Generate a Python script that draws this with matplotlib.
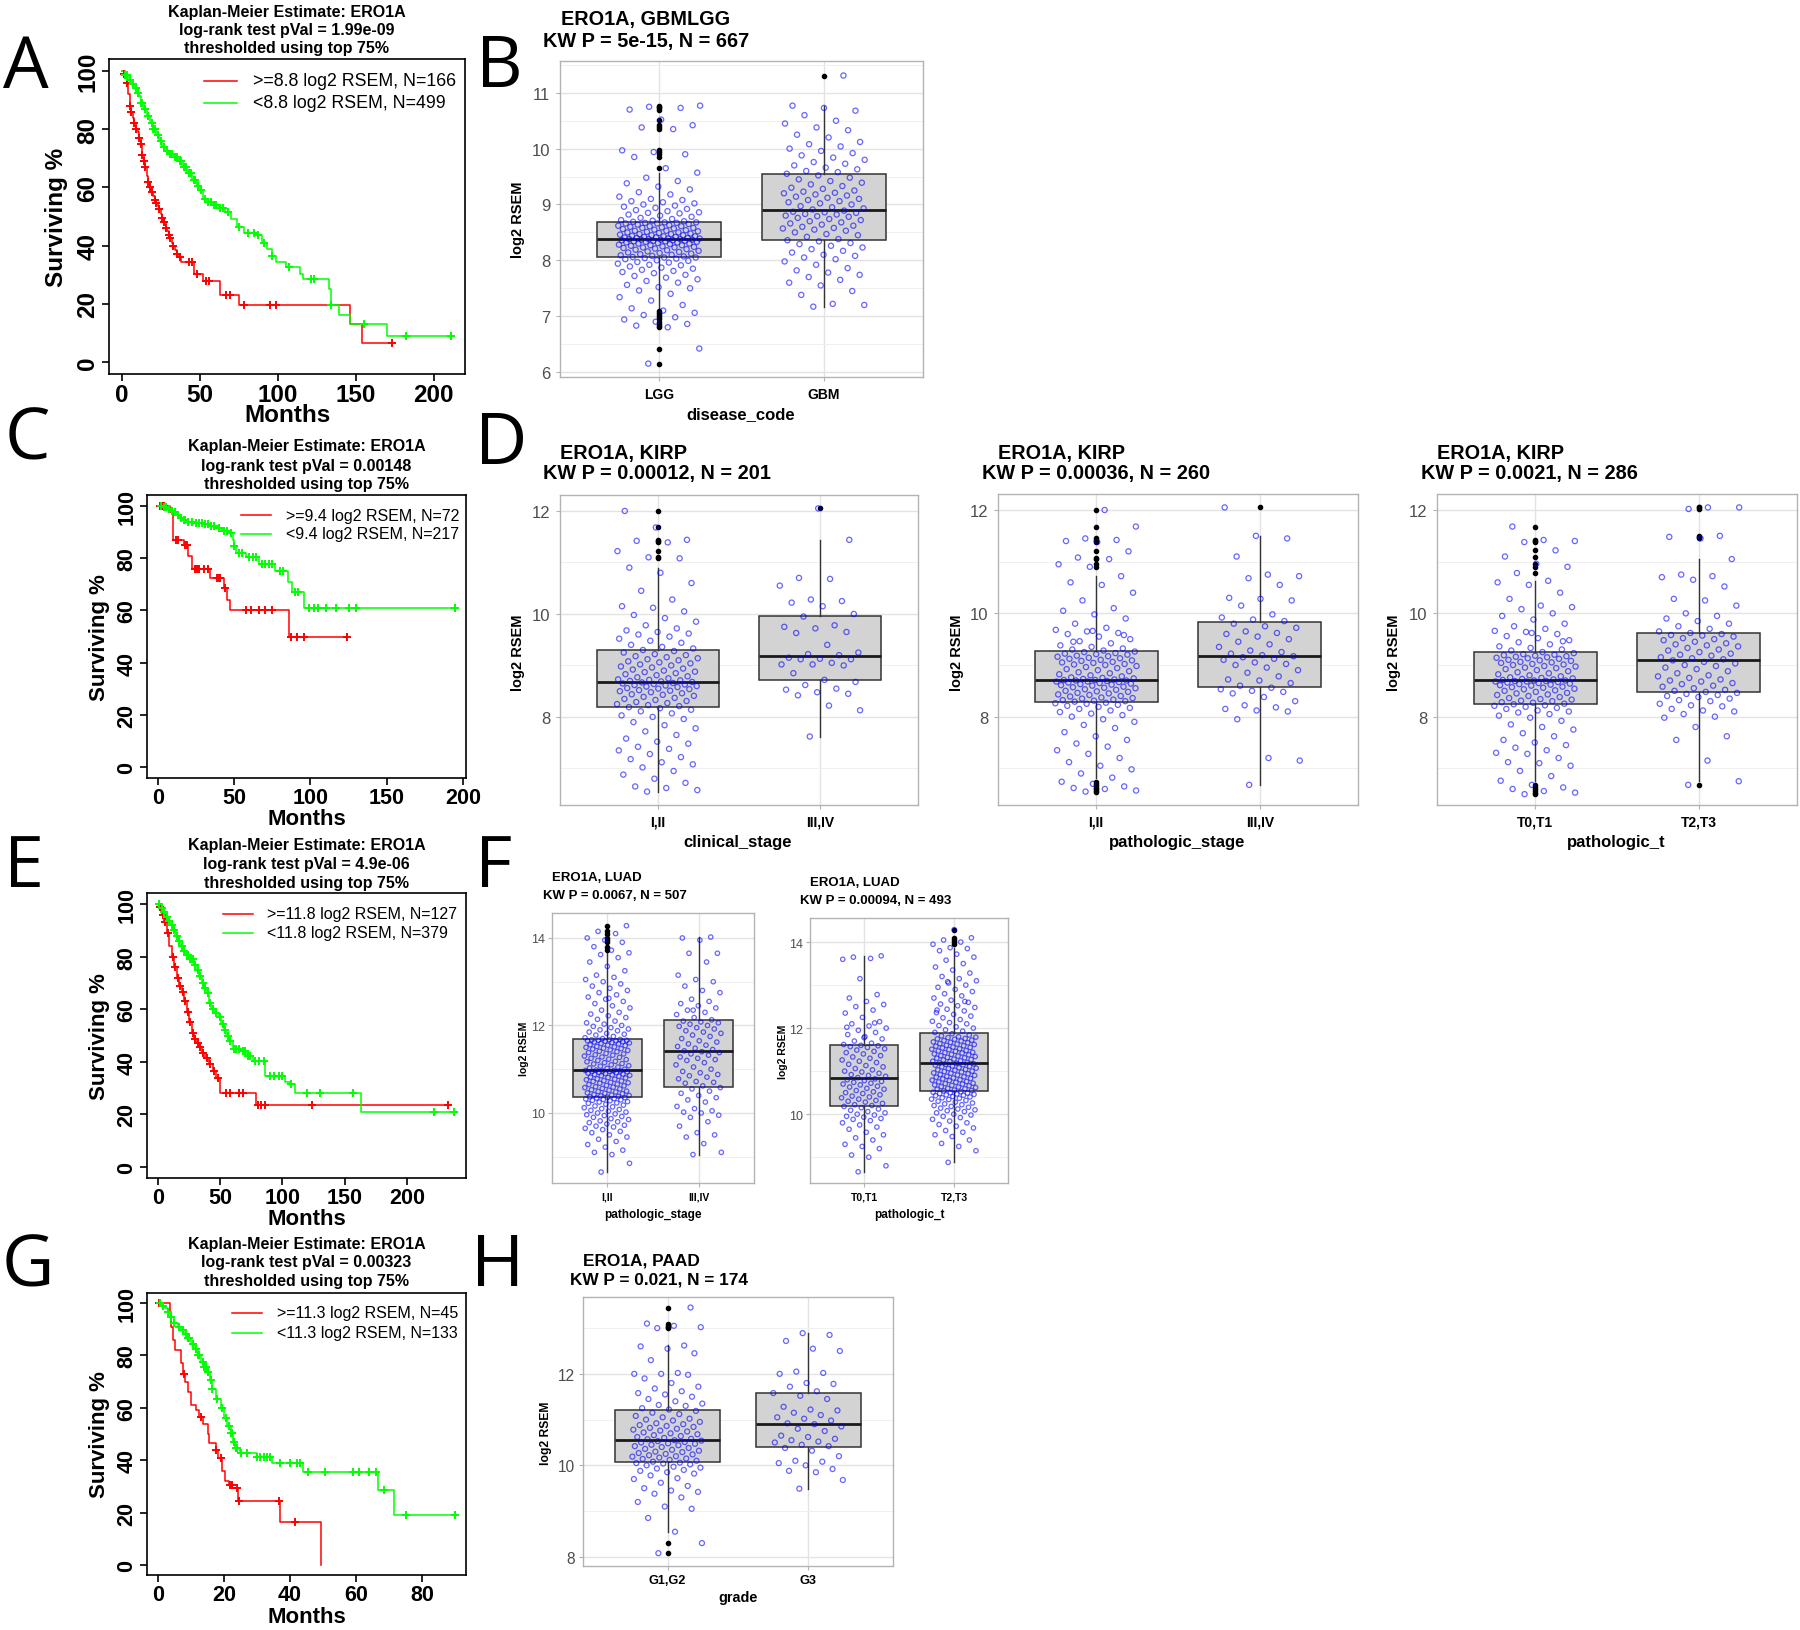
import matplotlib
matplotlib.use("Agg")
import matplotlib.pyplot as plt
from matplotlib.lines import Line2D
from matplotlib.ticker import FixedLocator
import numpy as np

plt.rcParams['font.family'] = ['Liberation Sans', 'DejaVu Sans']

W, H = 1800, 1631
fig = plt.figure(figsize=(W / 100, H / 100), dpi=100)

# ---------------- Kaplan-Meier curves (months, surviving %) ----------------
# A: GBMLGG
a_hi_t = [0, 1, 2, 3, 4, 5, 6, 7, 8, 9, 10, 11, 12, 13, 14, 15, 16, 17, 18, 19, 20, 21, 22, 23, 24,
          25, 26, 27, 28, 29, 30, 31, 32, 33, 34, 35, 36, 38, 46, 52, 63, 75, 146, 154]
a_hi_s = [100, 99, 97.5, 96, 92, 88, 86, 84, 82, 80, 79, 77, 75, 71, 69, 67, 64, 62, 60, 58.5, 57, 55.5,
          54.5, 53.5, 52.5, 51, 49.5, 48, 46, 45, 43.5, 42.5, 41, 40, 38.5, 37, 36, 34.3, 30.3, 28, 23.2,
          19.7, 13.1, 6.5]
a_hi_end = 173
a_hi_cens = [1, 3, 5, 6, 8, 9, 11, 12, 13, 14, 15, 17, 18, 19, 21, 22, 24, 26, 27, 28, 30, 31, 33, 35,
             37, 43, 45, 48, 54, 56, 67, 69, 78, 95, 99, 173]
a_lo_t = [0, 2, 4, 6, 8, 10, 11, 12, 14, 16, 18, 20, 22, 24, 26, 28, 30, 33, 36, 39, 42, 45, 48, 50, 52,
          54, 58, 62, 66, 70, 74, 78, 87, 90, 93, 96, 99, 105, 114, 116, 133, 134, 139, 146, 170]
a_lo_s = [100, 98.5, 97, 95.5, 94, 92.5, 91.5, 89, 87, 84.5, 82, 80, 78, 76, 74, 72.6, 71.5, 70.5, 69, 67,
          65, 62.5, 60.5, 59, 56, 55, 54, 53, 51.5, 49, 46.5, 44.5, 43.5, 41, 39, 36.6, 34.3, 32.6, 30.3,
          28.6, 25, 19.7, 16.2, 13.1, 8.8]
a_lo_end = 211
a_lo_cens = [2, 3, 5, 7, 9, 10, 12, 13, 15, 17, 19, 20, 21, 23, 25, 27, 29, 31, 32, 34, 35, 37, 38, 40,
             41, 43, 44, 46, 47, 49, 51, 53, 55, 57, 59, 60, 63, 65, 68, 75, 81, 85, 87, 91, 96, 107,
             121, 123, 134, 155, 182, 211]

# C: KIRP
c_hi_t = [0, 8, 10, 17, 20, 22, 34, 43, 45, 47, 86]
c_hi_s = [100, 97.5, 87, 85, 81, 76, 72.5, 68.5, 64, 60, 50]
c_hi_end = 124
c_hi_cens = [1, 2, 3, 4, 12, 13, 18, 19, 24, 25, 26, 27, 30, 33, 39, 40, 41, 44, 58, 61, 66, 70, 75, 87,
             91, 96, 124]
c_lo_t = [0, 3, 6, 8, 10, 12, 14, 16, 19, 24, 30, 34, 38, 42, 47, 49, 50, 51, 58, 66, 77, 85, 88, 96]
c_lo_s = [100, 99.5, 99, 98, 97.5, 96.5, 95.5, 94.5, 94, 93.5, 93, 92.3, 91.5, 90.5, 89.5, 87, 84.5, 82,
          80.3, 77.7, 75, 70.7, 67, 61]
c_lo_end = 195
c_lo_cens = [2, 4, 5, 7, 9, 11, 13, 15, 17, 18, 20, 22, 25, 27, 29, 31, 33, 35, 37, 40, 43, 45, 48, 50,
             53, 55, 60, 62, 64, 68, 70, 73, 75, 80, 82, 90, 92, 99, 102, 105, 110, 117, 125, 130, 195]

# E: LUAD
e_hi_t = [0, 1, 3, 5, 7, 9, 11, 13, 15, 17, 19, 21, 23, 25, 27, 29, 31, 33, 35, 38, 41, 44, 47, 50, 79]
e_hi_s = [100, 99, 96, 93, 89, 84, 80, 76, 72, 69, 66.5, 63, 59, 55, 51, 48.5, 47, 45.5, 43.5, 41.5, 39,
          36.5, 34, 28.2, 23.5]
e_hi_end = 233
e_hi_cens = [2, 4, 6, 8, 12, 14, 16, 18, 20, 22, 24, 26, 28, 30, 32, 34, 36, 39, 42, 45, 48, 55, 58, 65,
             68, 80, 83, 86, 124, 233]
e_lo_t = [0, 2, 4, 6, 8, 10, 12, 14, 16, 18, 20, 22, 25, 29, 31, 33, 35, 37, 39, 41, 43, 46, 49, 51, 53,
          55, 57, 60, 66, 71, 76, 86, 102, 106, 110, 163]
e_lo_s = [100, 98.5, 97, 95, 93.5, 92, 90, 88, 86, 84, 82, 80.5, 79, 77, 75, 72.5, 70, 68, 66, 62.5, 60,
          58.5, 57, 54.5, 52, 50, 48, 45, 44, 42.2, 40.3, 34.6, 32.4, 31.4, 28.2, 21]
e_lo_end = 238
e_lo_cens = [1, 3, 5, 7, 9, 11, 13, 15, 17, 19, 21, 23, 24, 26, 27, 28, 30, 32, 34, 36, 38, 40, 42, 44,
             47, 50, 52, 54, 56, 58, 61, 63, 65, 68, 70, 72, 74, 78, 81, 85, 90, 93, 97, 100, 107, 120,
             130, 157, 222, 238]

# G: PAAD
g_hi_t = [0, 3.5, 4, 4.5, 5.2, 7, 7.6, 8.2, 9, 10, 11.5, 12.5, 13.5, 15, 15.6, 17.5, 18.2, 19.5, 20.2,
          21.5, 22.5, 24.2, 37, 49.5]
g_hi_s = [100, 96, 91, 86, 82, 77, 73, 70, 66, 61, 59, 56.5, 54, 50, 46.5, 44, 41, 36, 32, 30.5, 29.5,
          24.5, 16.3, 0]
g_hi_end = 49.5
g_hi_cens = [0.3, 8, 13, 17.5, 19, 21.8, 22.4, 23.8, 24.5, 36.8, 41.5]
g_lo_t = [0, 1, 2, 3, 4, 5, 6, 7, 8, 9, 10, 11, 12, 13, 14, 15, 15.7, 16.5, 17.5, 19, 20, 21, 22, 22.8,
          23.3, 24.8, 29.9, 34.4, 44, 66.5, 71.6]
g_lo_s = [100, 99, 98, 96.5, 94.5, 92.5, 91, 89.5, 88, 86.5, 84.5, 82.5, 80, 77.5, 75.5, 73.5, 70.5, 67,
          63.5, 60, 56, 53, 50.5, 47, 44.5, 42.8, 41.3, 38.8, 35.6, 28.6, 19]
g_lo_end = 90
g_lo_cens = [0.5, 1.5, 3, 4, 5, 6.5, 7.5, 8.5, 9, 9.5, 10.5, 11.5, 12, 12.5, 13.5, 14, 14.5, 15, 16,
             16.5, 18, 19.5, 20.5, 21.5, 22, 22.5, 23, 23.5, 24, 25, 27, 30, 31, 32, 33, 34, 37, 40, 42,
             43, 45.5, 50.5, 59, 61, 64, 66, 68.5, 75, 90]

km_pvals = ['1.99e-09', '0.00148', '4.9e-06', '0.00323']
km_legends = [('>=8.8 log2 RSEM, N=166', '<8.8 log2 RSEM, N=499'),
              ('>=9.4 log2 RSEM, N=72', '<9.4 log2 RSEM, N=217'),
              ('>=11.8 log2 RSEM, N=127', '<11.8 log2 RSEM, N=379'),
              ('>=11.3 log2 RSEM, N=45', '<11.3 log2 RSEM, N=133')]

# ---------------- expression values (log2 RSEM) ----------------
b_lgg = [6.15, 6.42, 6.80, 6.83, 6.86, 6.90, 6.94, 6.98, 7.02, 7.06, 7.10,
         7.14, 7.20, 7.28, 7.34, 7.40, 7.46, 7.50, 7.52, 7.56, 7.60, 7.63,
         7.66, 7.69, 7.72, 7.74, 7.77, 7.79, 7.81, 7.83, 7.85, 7.87,
         7.89, 7.91, 7.92, 7.94, 7.96, 7.97, 7.99, 8.00, 8.02, 8.03, 8.04, 8.05, 8.05,
         8.06, 8.07, 8.08, 8.09, 8.10, 8.11, 8.12, 8.13, 8.14, 8.15,
         8.16, 8.17, 8.18, 8.19, 8.20, 8.21, 8.22, 8.23, 8.23, 8.24,
         8.25, 8.26, 8.27, 8.27, 8.28, 8.29, 8.30, 8.30, 8.31, 8.32,
         8.32, 8.33, 8.33, 8.34, 8.34, 8.35, 8.35, 8.36, 8.36, 8.37,
         8.37, 8.37, 8.38, 8.38, 8.38,
         8.39, 8.39, 8.40, 8.40, 8.41, 8.41, 8.42, 8.42, 8.43, 8.43,
         8.44, 8.45, 8.45, 8.46, 8.47, 8.47, 8.48, 8.49, 8.50, 8.50,
         8.51, 8.52, 8.53, 8.53, 8.54, 8.55, 8.56, 8.57, 8.58, 8.58,
         8.59, 8.60, 8.61, 8.61, 8.62, 8.63, 8.64, 8.65, 8.66, 8.66,
         8.67, 8.67, 8.68, 8.68, 8.69,
         8.70, 8.71, 8.72, 8.74, 8.76, 8.78, 8.80, 8.82, 8.84, 8.85, 8.86, 8.88,
         8.90, 8.92, 8.94, 8.96, 8.98, 9.00, 9.02, 9.04, 9.06, 9.08,
         9.10, 9.14, 9.18, 9.22, 9.27, 9.32, 9.38, 9.42, 9.48, 9.57,
         9.65, 9.85, 9.90, 9.94, 9.97, 10.35, 10.38, 10.42, 10.52, 10.70, 10.73, 10.75, 10.77]
b_gbm = [7.17, 7.20, 7.22, 7.38, 7.45, 7.55, 7.60, 7.65, 7.70, 7.74, 7.78, 7.82, 7.86, 7.92, 7.98,
         8.02, 8.05, 8.08, 8.10, 8.14, 8.17, 8.20, 8.23, 8.26, 8.29, 8.31, 8.34,
         8.36, 8.38, 8.42, 8.45, 8.47, 8.50, 8.53, 8.55, 8.57, 8.58, 8.60, 8.62, 8.64, 8.66, 8.68,
         8.70, 8.72, 8.74, 8.76, 8.78, 8.79, 8.80, 8.82, 8.83, 8.85, 8.86, 8.87, 8.89,
         8.91, 8.93, 8.95, 8.97, 9.00, 9.02, 9.04, 9.06, 9.08, 9.10, 9.12, 9.14, 9.16, 9.18, 9.20,
         9.21, 9.23, 9.25, 9.28, 9.30, 9.33, 9.36, 9.39, 9.42, 9.45, 9.48, 9.52,
         9.55, 9.58, 9.60, 9.63, 9.66, 9.70, 9.73, 9.76, 9.80, 9.84, 9.88, 9.92, 9.96, 10.00,
         10.04, 10.08, 10.12, 10.20, 10.25, 10.33, 10.38, 10.45, 10.50, 10.60, 10.68, 10.73, 10.77, 11.31]

d1_early = [6.55, 6.58, 6.62, 6.65, 6.72, 6.80, 6.88, 6.95, 7.02, 7.08, 7.12, 7.18, 7.22, 7.28, 7.35,
            7.38, 7.42, 7.48, 7.52, 7.58, 7.65, 7.72, 7.78, 7.84, 7.90, 7.96, 8.00, 8.03, 8.07, 8.11,
            8.14, 8.17,
            8.19, 8.21, 8.23, 8.25, 8.27, 8.29, 8.31, 8.33, 8.35, 8.37, 8.39, 8.41, 8.43, 8.44, 8.46,
            8.48, 8.50, 8.51, 8.52, 8.54, 8.55, 8.56, 8.58, 8.59, 8.60, 8.61, 8.62, 8.63, 8.64, 8.65,
            8.66, 8.67, 8.68,
            8.69, 8.70, 8.71, 8.72, 8.73, 8.75, 8.77, 8.79, 8.81, 8.83, 8.85, 8.87, 8.88, 8.90, 8.92,
            8.94, 8.96, 8.98, 9.00, 9.02, 9.04, 9.06, 9.08, 9.10, 9.12, 9.14, 9.16, 9.18, 9.20, 9.22,
            9.25, 9.28,
            9.30, 9.33, 9.36, 9.40, 9.44, 9.48, 9.52, 9.56, 9.60, 9.62, 9.65, 9.68, 9.72, 9.78, 9.85,
            9.92, 9.98, 10.05, 10.12, 10.15, 10.28, 10.45, 10.60, 10.80, 10.90, 11.08, 11.10, 11.22,
            11.39, 11.42, 11.44, 11.68, 12.00]
d1_late = [7.62, 8.13, 8.22, 8.42, 8.45, 8.48, 8.53, 8.55, 8.62, 8.68, 8.72, 8.85, 9.00, 9.02, 9.02,
           9.05, 9.12, 9.12, 9.13, 9.15, 9.20, 9.22, 9.25, 9.40, 9.63, 9.65, 9.72, 9.75, 9.78, 9.95,
           10.00, 10.15, 10.22, 10.25, 10.28, 10.55, 10.68, 10.70, 11.44, 12.05]

d2_early = [6.55, 6.57, 6.60, 6.62, 6.65, 6.70, 6.74, 6.82, 6.90, 6.98, 7.05, 7.12, 7.20, 7.28, 7.35,
            7.42, 7.48, 7.55, 7.62, 7.70, 7.78, 7.84, 7.90, 7.95, 8.00, 8.03, 8.06, 8.09, 8.12, 8.15,
            8.17, 8.19, 8.21, 8.23, 8.25, 8.26, 8.27,
            8.29, 8.30, 8.31, 8.32, 8.33, 8.35, 8.36, 8.37, 8.39, 8.40, 8.42, 8.43, 8.45, 8.46, 8.48,
            8.49, 8.50, 8.52, 8.53, 8.55, 8.56, 8.57, 8.58, 8.60, 8.61, 8.62, 8.63, 8.64, 8.65, 8.66,
            8.67, 8.68, 8.68, 8.69, 8.70, 8.70, 8.71, 8.71,
            8.72, 8.73, 8.74, 8.75, 8.76, 8.78, 8.80, 8.82, 8.84, 8.86, 8.88, 8.90, 8.92, 8.94, 8.96,
            8.98, 9.00, 9.01, 9.02, 9.04, 9.05, 9.06, 9.08, 9.09, 9.10, 9.12, 9.13, 9.14, 9.16, 9.17,
            9.18, 9.20, 9.21, 9.22, 9.23, 9.25, 9.26,
            9.28, 9.30, 9.32, 9.35, 9.38, 9.42, 9.46, 9.50, 9.55, 9.60, 9.62, 9.65, 9.68, 9.72, 9.80,
            9.90, 9.98, 10.05, 10.10, 10.25, 10.40, 10.55, 10.60, 10.72, 10.90, 10.95, 11.05, 11.08,
            11.20, 11.38, 11.40, 11.42, 11.45, 11.68, 12.00, 9.45, 9.58, 9.66]
d2_late = [6.68, 7.15, 7.20, 7.95, 8.10, 8.12, 8.15, 8.18, 8.22, 8.30, 8.38, 8.45, 8.48, 8.50, 8.53,
           8.56, 8.60, 8.65, 8.70, 8.72, 8.78, 8.85, 8.90, 8.95, 9.00, 9.02, 9.05, 9.10, 9.12, 9.15, 9.17,
           9.19, 9.22, 9.25, 9.28, 9.35, 9.40, 9.45, 9.50, 9.55, 9.60, 9.62, 9.65, 9.72, 9.75, 9.80,
           9.85, 9.88, 9.92, 9.98, 10.15, 10.25, 10.28, 10.30, 10.55, 10.68, 10.72, 10.75, 11.10, 11.45,
           11.50, 12.05]

d3_t01 = [6.50, 6.53, 6.56, 6.60, 6.63, 6.68, 6.76, 6.85, 6.95, 7.05, 7.10, 7.12, 7.20, 7.28, 7.30,
          7.35, 7.40, 7.45, 7.50, 7.55, 7.62, 7.68, 7.75, 7.80, 7.85, 7.92, 7.98, 8.02, 8.05, 8.08,
          8.10, 8.12, 8.15, 8.17, 8.19, 8.21, 8.22,
          8.24, 8.25, 8.27, 8.28, 8.30, 8.31, 8.33, 8.34, 8.36, 8.38, 8.40, 8.42, 8.43, 8.45, 8.46,
          8.48, 8.50, 8.51, 8.53, 8.54, 8.56, 8.57, 8.58, 8.60, 8.61, 8.62, 8.63, 8.64, 8.65, 8.66,
          8.67, 8.68, 8.68, 8.69, 8.69, 8.70, 8.70, 8.71,
          8.72, 8.73, 8.74, 8.75, 8.76, 8.78, 8.80, 8.82, 8.84, 8.86, 8.88, 8.90, 8.92, 8.94, 8.95,
          8.97, 8.98, 9.00, 9.01, 9.02, 9.04, 9.05, 9.06, 9.08, 9.09, 9.10, 9.12, 9.13, 9.14, 9.15,
          9.16, 9.17, 9.18, 9.19, 9.20, 9.21, 9.23,
          9.25, 9.28, 9.30, 9.33, 9.36, 9.40, 9.44, 9.48, 9.52, 9.56, 9.60, 9.64, 9.66, 9.70, 9.75,
          9.80, 9.88, 9.95, 10.00, 10.08, 10.12, 10.15, 10.28, 10.40, 10.55, 10.60, 10.63, 10.78,
          10.90, 10.96, 11.10, 11.22, 11.38, 11.40, 11.42, 11.68, 9.46, 9.62]
d3_t23 = [6.68, 6.75, 7.15, 7.55, 7.62, 7.80, 7.98, 8.00, 8.05, 8.10, 8.12, 8.15, 8.20, 8.22, 8.25,
          8.30, 8.32, 8.35, 8.38, 8.40, 8.42, 8.44, 8.46,
          8.48, 8.50, 8.52, 8.55, 8.58, 8.60, 8.63, 8.65, 8.68, 8.70, 8.72, 8.75, 8.78, 8.80, 8.84,
          8.88, 8.92, 8.95, 8.98, 9.00, 9.03, 9.06, 9.09,
          9.11, 9.13, 9.15, 9.18, 9.20, 9.22, 9.25, 9.28, 9.30, 9.33, 9.36, 9.38, 9.40, 9.42, 9.45,
          9.48, 9.50, 9.52, 9.55, 9.57, 9.58, 9.60, 9.62,
          9.65, 9.70, 9.75, 9.80, 9.85, 9.90, 9.95, 10.00, 10.15, 10.25, 10.28, 10.52, 10.65, 10.70,
          10.72, 10.75, 11.05, 11.45, 11.48, 11.50, 12.02, 12.05, 12.05]

f1_early = [8.65, 8.85, 9.05, 9.10, 9.15, 9.22, 9.28, 9.35, 9.40, 9.45, 9.50, 9.55, 9.58, 9.62, 9.65,
            9.68, 9.70, 9.72, 9.75, 9.78, 9.80, 9.82, 9.85, 9.87, 9.90, 9.92, 9.94, 9.96, 9.98, 10.00,
            10.02, 10.04, 10.06, 10.08, 10.10, 10.12, 10.14, 10.16, 10.18, 10.20, 10.22, 10.23, 10.25,
            10.26, 10.28, 10.29, 10.30, 10.31, 10.32, 10.33, 10.34, 10.35,
            10.36, 10.37, 10.38, 10.39, 10.40, 10.41, 10.42, 10.44, 10.45, 10.46, 10.48, 10.49, 10.50,
            10.52, 10.53, 10.55, 10.56, 10.58, 10.59, 10.60, 10.62, 10.63, 10.65, 10.66, 10.68, 10.69,
            10.70, 10.72, 10.73, 10.74, 10.76, 10.77, 10.78, 10.80, 10.81, 10.82, 10.84, 10.85, 10.86,
            10.87, 10.88, 10.89, 10.90, 10.91, 10.92, 10.93, 10.94, 10.95, 10.95, 10.96, 10.96, 10.97,
            10.97,
            10.98, 11.00, 11.02, 11.03, 11.05, 11.07, 11.08, 11.10, 11.12, 11.13, 11.15, 11.17, 11.18,
            11.20, 11.22, 11.23, 11.25, 11.27, 11.28, 11.30, 11.32, 11.33, 11.35, 11.36, 11.38, 11.40,
            11.41, 11.43, 11.44, 11.46, 11.47, 11.48, 11.50, 11.51, 11.52, 11.54, 11.55, 11.56, 11.58,
            11.59, 11.60, 11.61, 11.62, 11.63, 11.64, 11.65, 11.65, 11.66, 11.66, 11.67, 11.67, 11.68,
            11.70, 11.72, 11.75, 11.78, 11.80, 11.82, 11.85, 11.88, 11.90, 11.92, 11.95, 11.98, 12.00,
            12.03, 12.06, 12.10, 12.14, 12.18, 12.22, 12.26, 12.30, 12.35, 12.40, 12.45, 12.50, 12.55,
            12.60, 12.65, 12.70, 12.75, 12.80, 12.85, 12.90, 12.95, 13.00, 13.05, 13.10, 13.15, 13.25,
            13.35, 13.45, 13.55, 13.62, 13.66, 13.72, 13.80, 13.90, 13.95, 14.00, 14.10, 14.15, 14.28,
            12.62]
f1_late = [9.05, 9.10, 9.30, 9.45, 9.50, 9.55, 9.70, 9.80, 9.90, 9.95, 10.00, 10.02, 10.05, 10.10, 10.15,
           10.25, 10.30, 10.35, 10.40, 10.45, 10.50, 10.55,
           10.58, 10.62, 10.68, 10.70, 10.72, 10.78, 10.82, 10.85, 10.88, 10.92, 10.95, 11.00, 11.05,
           11.10, 11.15, 11.20, 11.22, 11.25, 11.28, 11.32, 11.35, 11.38, 11.40,
           11.42, 11.45, 11.48, 11.52, 11.55, 11.58, 11.62, 11.65, 11.70, 11.75, 11.78, 11.82, 11.85,
           11.88, 11.92, 11.95, 11.98, 12.00, 12.03, 12.06, 12.08, 12.10,
           12.13, 12.18, 12.25, 12.30, 12.35, 12.40, 12.45, 12.50, 12.55, 12.60, 12.75, 12.80, 12.90,
           13.00, 13.05, 13.15, 13.45, 13.65, 13.65, 13.95, 14.00, 14.02, 12.35]

f2_t01 = [8.66, 8.80, 9.00, 9.05, 9.20, 9.25, 9.30, 9.40, 9.45, 9.52, 9.58, 9.65, 9.70, 9.75, 9.80,
          9.85, 9.88, 9.90, 9.93, 9.95, 9.98, 10.00, 10.03, 10.06, 10.09, 10.12, 10.15,
          10.18, 10.20, 10.22, 10.25, 10.28, 10.30, 10.32, 10.35, 10.38, 10.40, 10.42, 10.45, 10.48,
          10.50, 10.52, 10.55, 10.58, 10.60, 10.63, 10.65, 10.68, 10.70, 10.72, 10.74, 10.76, 10.78,
          10.80, 10.82,
          10.85, 10.88, 10.90, 10.92, 10.95, 10.98, 11.00, 11.03, 11.06, 11.10, 11.13, 11.16, 11.20,
          11.23, 11.26, 11.30, 11.33, 11.36, 11.40, 11.43, 11.46, 11.49, 11.52, 11.55, 11.57, 11.59,
          11.60,
          11.62, 11.65, 11.70, 11.75, 11.80, 11.85, 11.90, 11.95, 12.00, 12.05, 12.10, 12.15, 12.25,
          12.35, 12.42, 12.50, 12.55, 12.62, 12.70, 12.78, 13.15, 13.60, 13.62, 13.65, 13.68, 11.78,
          12.02, 12.12]
f2_t23 = [8.88, 9.15, 9.25, 9.32, 9.40, 9.48, 9.52, 9.58, 9.62, 9.68, 9.72, 9.76, 9.80, 9.84, 9.88,
          9.92, 9.95, 9.98, 10.00, 10.03, 10.06, 10.08, 10.10, 10.12, 10.14, 10.16, 10.18, 10.20,
          10.22, 10.24, 10.26, 10.28, 10.30, 10.32, 10.34, 10.35, 10.37, 10.38, 10.40, 10.41, 10.43,
          10.44, 10.45, 10.46, 10.47, 10.48, 10.49, 10.50, 10.51, 10.52,
          10.54, 10.55, 10.56, 10.58, 10.59, 10.60, 10.62, 10.63, 10.64, 10.66, 10.67, 10.68, 10.70,
          10.71, 10.72, 10.74, 10.75, 10.76, 10.78, 10.79, 10.80, 10.82, 10.83, 10.84, 10.86, 10.87,
          10.88, 10.90, 10.91, 10.92, 10.94, 10.95, 10.96, 10.98, 10.99, 11.00, 11.02, 11.03, 11.04,
          11.06, 11.07, 11.08, 11.10, 11.11, 11.12, 11.14, 11.15, 11.16, 11.17, 11.18,
          11.19, 11.20, 11.22, 11.23, 11.24, 11.26, 11.27, 11.28, 11.30, 11.31, 11.32, 11.34, 11.35,
          11.36, 11.38, 11.39, 11.40, 11.42, 11.43, 11.44, 11.46, 11.47, 11.48, 11.50, 11.51, 11.52,
          11.54, 11.55, 11.56, 11.58, 11.59, 11.60, 11.62, 11.63, 11.64, 11.66, 11.67, 11.68, 11.70,
          11.71, 11.72, 11.74, 11.75, 11.76, 11.78, 11.79, 11.80, 11.82, 11.84, 11.87,
          11.90, 11.93, 11.96, 12.00, 12.03, 12.06, 12.10, 12.13, 12.16, 12.20, 12.24, 12.28, 12.32,
          12.36, 12.40, 12.44, 12.48, 12.52, 12.56, 12.60, 12.65, 12.70, 12.75, 12.80, 12.85, 12.90,
          12.95, 13.00, 13.05, 13.10, 13.15, 13.20, 13.28, 13.35, 13.42, 13.50, 13.58, 13.65, 13.72,
          13.80, 13.85, 13.87, 13.95, 14.00, 14.05, 14.10, 14.29, 12.42, 12.62, 13.08]

h_g12 = [8.08, 8.30, 8.55, 8.85, 9.05, 9.10, 9.20, 9.30, 9.38, 9.42, 9.45, 9.50, 9.55, 9.62, 9.70, 9.72,
         9.78, 9.82, 9.85, 9.88, 9.90, 9.93, 9.95, 9.97, 10.00, 10.02, 10.04, 10.05, 10.06,
         10.08, 10.10, 10.12, 10.14, 10.15, 10.17, 10.19, 10.20, 10.22, 10.24, 10.25, 10.27, 10.29,
         10.30, 10.32, 10.34, 10.36, 10.38, 10.40, 10.42, 10.44, 10.45, 10.47, 10.48, 10.50, 10.51,
         10.53, 10.54,
         10.55, 10.57, 10.58, 10.60, 10.62, 10.64, 10.66, 10.68, 10.70, 10.72, 10.74, 10.76, 10.78,
         10.80, 10.82, 10.84, 10.86, 10.88, 10.90, 10.92, 10.95, 10.98, 11.00, 11.02, 11.05, 11.08,
         11.12, 11.15, 11.19,
         11.22, 11.25, 11.30, 11.32, 11.35, 11.40, 11.45, 11.50, 11.55, 11.58, 11.62, 11.68, 11.72,
         11.80, 11.90, 11.98, 12.00, 12.00, 12.02, 12.30, 12.45, 12.55, 12.60, 12.62, 13.00, 13.02,
         13.05, 13.10, 13.45]
h_g3 = [9.49, 9.68, 9.85, 9.88, 9.92, 10.00, 10.05, 10.08, 10.10, 10.20, 10.32, 10.38,
        10.42, 10.45, 10.50, 10.52, 10.55, 10.58, 10.62, 10.65, 10.75, 10.80, 10.85, 10.90,
        10.92, 10.98, 11.02, 11.05, 11.10, 11.15, 11.20, 11.22, 11.28, 11.45, 11.52, 11.58,
        11.62, 11.72, 11.78, 11.80, 12.00, 12.02, 12.05, 12.50, 12.55, 12.72, 12.85, 12.89]

box_titles = [('ERO1A, GBMLGG', 'KW P = 5e-15, N = 667'),
              ('ERO1A, KIRP', 'KW P = 0.00012, N = 201'),
              ('ERO1A, KIRP', 'KW P = 0.00036, N = 260'),
              ('ERO1A, KIRP', 'KW P = 0.0021, N = 286'),
              ('ERO1A, LUAD', 'KW P = 0.0067, N = 507'),
              ('ERO1A, LUAD', 'KW P = 0.00094, N = 493'),
              ('ERO1A, PAAD', 'KW P = 0.021, N = 174')]

RED, GREEN = '#FF0000', '#00FF00'
SANS = 'Liberation Sans'


def px_axes(x0, y0, x1, y1):
    return fig.add_axes([x0 / W, 1 - y1 / H, (x1 - x0) / W, (y1 - y0) / H])


def ftext(x, y, s, **kw):
    kw.setdefault('va', 'center')
    fig.text(x / W, 1 - y / H, s, **kw)


def km_panel(rect, xlim, ylim, xticks, curves, pval, legend, lay, tick_fs, lab_fs, leg_fs):
    ax = px_axes(*rect)
    for t, s, end, cens, color in curves:
        t = np.asarray(t, float)
        s = np.asarray(s, float)
        ax.step(np.append(t, end), np.append(s, s[-1]), where='post', color=color, lw=1.1, zorder=3)
        idx = np.searchsorted(t, cens, side='right') - 1
        ax.plot(cens, s[idx], ls='none', marker='+', ms=6, mew=1.4, color=color, zorder=4)
    ax.set_xlim(xlim)
    ax.set_ylim(ylim)
    ax.set_xticks(xticks)
    ax.set_yticks([0, 20, 40, 60, 80, 100])
    ax.tick_params(direction='out', length=5, width=1.2, labelsize=tick_fs, pad=1.5)
    ax.tick_params(axis='y', labelrotation=90, pad=2)
    for lab in ax.get_xticklabels() + ax.get_yticklabels():
        lab.set_fontweight('bold')
    for lab in ax.get_yticklabels():
        lab.set_va('center')
    for sp in ax.spines.values():
        sp.set_linewidth(1.2)
    cx = (rect[0] + rect[2]) / 2
    cy = (rect[1] + rect[3]) / 2
    lines = ['Kaplan-Meier Estimate: ERO1A', 'log-rank test pVal = ' + pval, 'thresholded using top 75%']
    for txt, ty in zip(lines, lay['title_y']):
        ftext(cx, ty, txt, ha='center', fontsize=11.5, fontweight='bold')
    for (lab, color), ly in zip(zip(legend, [RED, GREEN]), lay['leg_y']):
        fig.add_artist(Line2D([lay['leg_x'][0] / W, lay['leg_x'][1] / W], [1 - ly / H] * 2,
                              color=color, lw=1.1))
        ftext(lay['leg_x'][2], ly, lab, ha='left', fontsize=leg_fs)
    ftext(lay['ylab_x'], cy, 'Surviving %', ha='center', rotation=90, fontsize=lab_fs, fontweight='bold')
    ftext(cx, lay['xlab_y'], 'Months', ha='center', fontsize=lab_fs, fontweight='bold')
    return ax


def box_panel(rect, ylim, yticks, yminor, groups, cats, titles, lay, fs, msize):
    ax = px_axes(*rect)
    ax.set_axisbelow(True)
    ax.boxplot(groups, positions=[1, 2], widths=0.75, patch_artist=True, showcaps=False,
               manage_ticks=False,
               boxprops=dict(facecolor='#D3D3D3', edgecolor='#333333', linewidth=1.1),
               medianprops=dict(color='#1A1A1A', linewidth=2.0),
               whiskerprops=dict(color='#333333', linewidth=1.0),
               flierprops=dict(marker='o', markerfacecolor='black', markeredgecolor='black',
                               markersize=3.0))
    for k, vals in enumerate(groups):
        n = len(vals)
        jit = ((np.arange(n) * 0.6180339887 + 0.37) % 1.0 - 0.5) * 0.5
        ax.scatter(k + 1 + jit, vals, s=msize, facecolors='none', edgecolors=(0, 0, 1, 0.6),
                   linewidths=0.9, zorder=4)
    ax.set_xlim(0.4, 2.6)
    ax.set_ylim(ylim)
    ax.set_xticks([1, 2])
    ax.set_xticklabels(cats, fontsize=fs['xt'], fontweight='bold')
    ax.set_yticks(yticks)
    ax.set_yticklabels([str(v) for v in yticks], fontsize=fs['yt'], color='#4D4D4D')
    ax.yaxis.set_minor_locator(FixedLocator(yminor))
    ax.grid(True, which='major', color='#E3E3E3', lw=1.0)
    ax.grid(True, which='minor', axis='y', color='#F0F0F0', lw=0.7)
    ax.tick_params(which='minor', length=0)
    ax.tick_params(which='major', length=3, width=0.8, color='#B3B3B3')
    ax.tick_params(axis='x', pad=fs['xpad'])
    ax.tick_params(axis='y', pad=fs['ypad'])
    for sp in ax.spines.values():
        sp.set_color('#B3B3B3')
        sp.set_linewidth(1.0)
    ftext(lay['t1'][0], lay['t1'][1], titles[0], ha='left', fontsize=fs['title'], fontweight='bold')
    ftext(lay['t2'][0], lay['t2'][1], titles[1], ha='left', fontsize=fs['title'], fontweight='bold')
    ftext(lay['ylab'][0], lay['ylab'][1], 'log2 RSEM', ha='center', rotation=90,
          fontsize=fs['ylab'], fontweight='bold')
    ftext(lay['xlab'][0], lay['xlab'][1], lay['xlab'][2], ha='center',
          fontsize=fs['xlab'], fontweight='bold')
    return ax


# ---------------- KM panels ----------------
km_panel((109, 60, 465, 375), (-8.3, 220), (-4.1, 104.1), [0, 50, 100, 150, 200],
         [(a_hi_t, a_hi_s, a_hi_end, a_hi_cens, RED), (a_lo_t, a_lo_s, a_lo_end, a_lo_cens, GREEN)],
         km_pvals[0], km_legends[0],
         dict(title_y=(12, 30, 49), leg_x=(204, 237, 253), leg_y=(82, 104), ylab_x=57, xlab_y=416),
         17.5, 17.5, 12.8)
km_panel((147, 496, 466, 779), (-7.2, 202), (-4.2, 104.2), [0, 50, 100, 150, 200],
         [(c_hi_t, c_hi_s, c_hi_end, c_hi_cens, RED), (c_lo_t, c_lo_s, c_lo_end, c_lo_cens, GREEN)],
         km_pvals[1], km_legends[1],
         dict(title_y=(447, 466, 485), leg_x=(241, 271, 286), leg_y=(516, 535), ylab_x=100, xlab_y=820),
         15.5, 16, 11.5)
km_panel((147, 894, 466, 1179), (-8.8, 247.4), (-4.2, 104.2), [0, 50, 100, 150, 200],
         [(e_hi_t, e_hi_s, e_hi_end, e_hi_cens, RED), (e_lo_t, e_lo_s, e_lo_end, e_lo_cens, GREEN)],
         km_pvals[2], km_legends[2],
         dict(title_y=(846, 865, 884), leg_x=(223, 253, 267), leg_y=(915, 934), ylab_x=100, xlab_y=1220),
         15.5, 16, 11.5)
km_panel((147, 1294, 466, 1576), (-3.33, 93.3), (-3.8, 103.8), [0, 20, 40, 60, 80],
         [(g_hi_t, g_hi_s, g_hi_end, g_hi_cens, RED), (g_lo_t, g_lo_s, g_lo_end, g_lo_cens, GREEN)],
         km_pvals[3], km_legends[3],
         dict(title_y=(1244, 1263, 1282), leg_x=(232, 262, 277), leg_y=(1314, 1334), ylab_x=100, xlab_y=1618),
         15.5, 16, 11.5)

# ---------------- box panels ----------------
fs_big = dict(title=14.3, yt=12, xt=10, xlab=12, ylab=10.5, xpad=4, ypad=4)
fs_f = dict(title=9.5, yt=9, xt=7.5, xlab=8.5, ylab=7.5, xpad=3, ypad=2)
fs_h = dict(title=12.4, yt=11.2, xt=9.2, xlab=10.4, ylab=8.7, xpad=3, ypad=3)

box_panel((560, 62, 923, 378), (5.91, 11.57), [6, 7, 8, 9, 10, 11], [6.5, 7.5, 8.5, 9.5, 10.5, 11.5],
          [b_lgg, b_gbm], ['LGG', 'GBM'], box_titles[0],
          dict(t1=(561, 20), t2=(543, 41), ylab=(518, 220), xlab=(741, 415, 'disease_code')),
          fs_big, 14)
box_panel((560, 496, 918, 806), (6.29, 12.31), [8, 10, 12], [7, 9, 11],
          [d1_early, d1_late], ['I,II', 'III,IV'], box_titles[1],
          dict(t1=(560, 453), t2=(543, 474), ylab=(518, 653), xlab=(738, 843, 'clinical_stage')),
          fs_big, 14)
box_panel((998, 495, 1358, 806), (6.29, 12.31), [8, 10, 12], [7, 9, 11],
          [d2_early, d2_late], ['I,II', 'III,IV'], box_titles[2],
          dict(t1=(998, 453), t2=(982, 474), ylab=(957, 653), xlab=(1177, 843, 'pathologic_stage')),
          fs_big, 14)
box_panel((1437, 495, 1797, 806), (6.29, 12.31), [8, 10, 12], [7, 9, 11],
          [d3_t01, d3_t23], ['T0,T1', 'T2,T3'], box_titles[3],
          dict(t1=(1437, 453), t2=(1421, 474), ylab=(1394, 653), xlab=(1616, 843, 'pathologic_t')),
          fs_big, 14)
box_panel((552, 914, 754, 1184), (8.4, 14.57), [10, 12, 14], [9, 11, 13],
          [f1_early, f1_late], ['I,II', 'III,IV'], box_titles[4],
          dict(t1=(552, 878), t2=(543, 896), ylab=(524, 1049), xlab=(653, 1215, 'pathologic_stage')),
          fs_f, 10)
box_panel((810, 919, 1008, 1184), (8.4, 14.56), [10, 12, 14], [9, 11, 13],
          [f2_t01, f2_t23], ['T0,T1', 'T2,T3'], box_titles[5],
          dict(t1=(810, 883), t2=(800, 901), ylab=(783, 1052), xlab=(909, 1215, 'pathologic_t')),
          fs_f, 10)
box_panel((583, 1298, 893, 1567), (7.8, 13.68), [8, 10, 12], [9, 11, 13],
          [h_g12, h_g3], ['G1,G2', 'G3'], box_titles[6],
          dict(t1=(583, 1261), t2=(570, 1280), ylab=(546, 1433), xlab=(738, 1598, 'grade')),
          fs_h, 13)

# ---------------- panel letters ----------------
letters = [('A', 26, 88), ('B', 499, 87), ('C', 27, 460), ('D', 501, 464),
           ('E', 24, 887), ('F', 494, 887), ('G', 28, 1287), ('H', 498, 1286)]
for ch, lx, ly in letters:
    ftext(lx, ly, ch, ha='center', va='baseline', fontsize=52, family=['Open Sans', 'DejaVu Sans'])

fig.savefig('out.png', dpi=100)
